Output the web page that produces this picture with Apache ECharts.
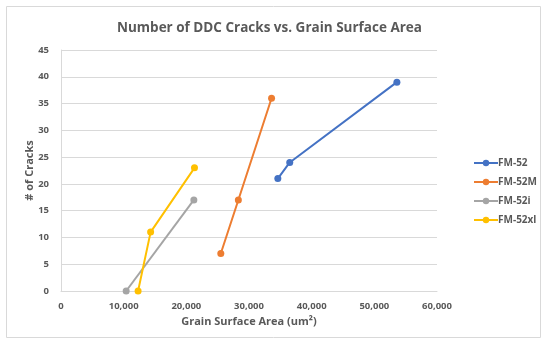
<!DOCTYPE html>
<html><head><meta charset="utf-8">
<script src="https://cdn.jsdelivr.net/npm/echarts@6/dist/echarts.min.js"></script>
<style>html,body{margin:0;padding:0;background:#fff}#c{width:550px;height:351px}</style>
</head><body><div id="c"></div>
<script>
const seriesNames = ['FM-52', 'FM-52M', 'FM-52i', 'FM-52xl'];
const colors = ['#4472C4', '#ED7D31', '#A5A5A5', '#FFC000'];
const fm52 = [[34600, 21], [36500, 24], [53600, 39]];
const fm52M = [[25500, 7], [28300, 17], [33600, 36]];
const fm52i = [[10400, 0], [21200, 17]];
const fm52xl = [[12300, 0], [14300, 11], [21300, 23]];
const allData = [fm52, fm52M, fm52i, fm52xl];
const title = 'Number of DDC Cracks vs. Grain Surface Area';
const xName = 'Grain Surface Area (um²)';
const yName = '# of Cracks';

const font = 'Open Sans';
const chart = echarts.init(document.getElementById('c'));
chart.setOption({
  animation: false,
  graphic: [{type:'rect', shape:{x:6.5,y:6.5,width:534,height:331}, style:{fill:'none', stroke:'#d9d9d9', lineWidth:1}, silent:true}],
  title: {text: title, left: 112, top: 16, textStyle:{fontFamily:font, fontSize:13.5, fontWeight:'bold', color:'#595959'}},
  legend: {orient:'vertical', left: 468, top: 153, itemWidth: 24, itemHeight: 8, itemGap: 9,
    textStyle:{fontFamily:font, fontSize:10, fontWeight:'bold', color:'#595959', padding:[0,0,0,-5]},
    data: seriesNames},
  grid: {left: 61, right: 113, top: 50, bottom: 60},
  xAxis: {type:'value', min:0, max:60000, interval:10000,
    name: xName, nameLocation:'middle', nameGap: 25, nameMoveOverlap: false,
    nameTextStyle:{fontFamily:font, fontSize:11, fontWeight:'bold', color:'#595959'},
    axisLine:{show:true, lineStyle:{color:'#d9d9d9'}}, axisTick:{show:false},
    splitLine:{show:false},
    axisLabel:{fontFamily:font, fontSize:9.5, fontWeight:'bold', color:'#595959', margin:10,
      formatter: v => v.toLocaleString('en-US')}},
  yAxis: {type:'value', min:0, max:45, interval:5,
    name: yName, nameLocation:'middle', nameGap: 26, nameMoveOverlap: false,
    nameTextStyle:{fontFamily:font, fontSize:11, fontWeight:'bold', color:'#595959'},
    axisLine:{show:true, lineStyle:{color:'#d9d9d9'}}, axisTick:{show:false},
    splitLine:{show:true, lineStyle:{color:'#d9d9d9'}},
    axisLabel:{fontFamily:font, fontSize:9.5, fontWeight:'bold', color:'#595959', margin:12}},
  series: seriesNames.map((n, i) => ({
    name: n, type:'line', data: allData[i], symbol:'circle', symbolSize: 7,
    lineStyle:{width:2, color: colors[i]}, itemStyle:{color: colors[i]}
  }))
});
</script></body></html>
